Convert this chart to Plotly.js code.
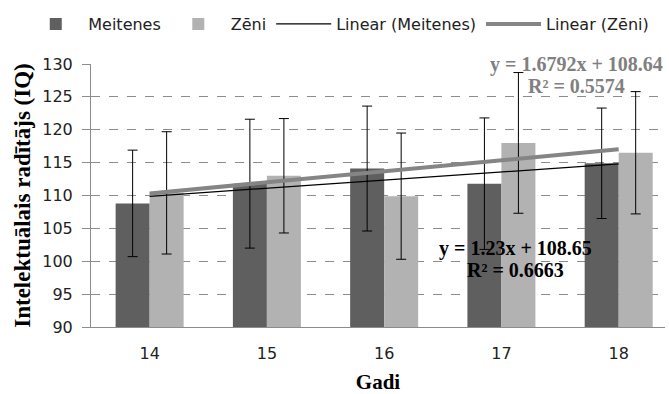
<!DOCTYPE html>
<html>
<head>
<meta charset="utf-8">
<script src="https://cdn.plot.ly/plotly-3.0.1.min.js"></script>
<style>html,body{margin:0;padding:0;background:#fff;}#chart{width:669px;height:394px;}</style>
</head>
<body>
<div id="chart"></div>
<script>
const categories = ['14', '15', '16', '17', '18'];
const meitenes = [108.8, 111.8, 114.1, 111.8, 114.9];
const meitenesErr = [8.1, 9.8, 9.5, 10.0, 8.4];
const zeni = [110.4, 113.0, 109.9, 118.0, 116.5];
const zeniErr = [9.3, 8.7, 9.6, 10.7, 9.3];
const trendX = ['14', '18'];
const trendMeitenes = [109.88, 114.80];
const trendZeni = [110.32, 117.04];
const seriesNames = ['Meitenes', 'Zēni', 'Linear (Meitenes)', 'Linear (Zēni)'];
const eqMeitenes = ['y = 1.23x + 108.65', 'R² = 0.6663'];
const eqZeni = ['y = 1.6792x + 108.64', 'R² = 0.5574'];

const sans = 'DejaVu Sans, sans-serif';
const serif = 'Liberation Serif, Times New Roman, serif';

const traces = [
  {type: 'bar', name: seriesNames[0], x: categories, y: meitenes,
   marker: {color: '#5f5f5f'},
   error_y: {type: 'data', array: meitenesErr, visible: true, color: '#000', thickness: 1, width: 5}},
  {type: 'bar', name: seriesNames[1], x: categories, y: zeni,
   marker: {color: '#b2b2b2'},
   error_y: {type: 'data', array: zeniErr, visible: true, color: '#000', thickness: 1, width: 5}},
  {type: 'scatter', mode: 'lines', name: seriesNames[2], x: trendX, y: trendMeitenes,
   line: {color: '#000', width: 1.2}},
  {type: 'scatter', mode: 'lines', name: seriesNames[3], x: trendX, y: trendZeni,
   line: {color: '#858585', width: 4}}
];

const layout = {
  width: 669, height: 394,
  margin: {l: 91, r: 4, t: 64, b: 67},
  paper_bgcolor: '#fff', plot_bgcolor: '#fff',
  barmode: 'group', bargap: 0.42, bargroupgap: 0,
  showlegend: true,
  legend: {orientation: 'h', x: -0.118, xanchor: 'left', y: 1.152, yanchor: 'middle', itemwidth: 55,
           font: {family: sans, size: 16, color: '#222'}, traceorder: 'normal'},
  xaxis: {type: 'category', range: [-0.5, 4.395], showgrid: false, zeroline: false,
          showline: true, linecolor: '#8c8c8c', linewidth: 1, ticks: '',
          tickfont: {family: sans, size: 16, color: '#222'}, ticklabelstandoff: 12,
          title: {text: 'Gadi', font: {family: serif, size: 21, color: '#000', weight: 'bold'}, standoff: 12}},
  yaxis: {range: [90, 130], dtick: 5, showgrid: true, gridcolor: '#8c8c8c', griddash: 'dash', gridwidth: 1,
          zeroline: false, showline: true, linecolor: '#8c8c8c', linewidth: 1,
          ticks: 'outside', ticklen: 8, tickcolor: '#8c8c8c', ticklabelstandoff: 6,
          tickfont: {family: sans, size: 16, color: '#222'},
          title: {text: 'Intelektuālais radītājs (IQ)', font: {family: serif, size: 23, color: '#000', weight: 'bold'}, standoff: 5}},
  annotations: [
    {x: 3.64, y: 129.9, xref: 'x', yref: 'y', text: eqZeni[0], showarrow: false,
     font: {family: serif, size: 20, color: '#808080', weight: 'bold'}},
    {x: 3.64, y: 126.6, xref: 'x', yref: 'y', text: eqZeni[1], showarrow: false,
     font: {family: serif, size: 20, color: '#808080', weight: 'bold'}},
    {x: 3.12, y: 101.9, xref: 'x', yref: 'y', text: eqMeitenes[0], showarrow: false,
     font: {family: serif, size: 20, color: '#000', weight: 'bold'}},
    {x: 3.12, y: 98.6, xref: 'x', yref: 'y', text: eqMeitenes[1], showarrow: false,
     font: {family: serif, size: 20, color: '#000', weight: 'bold'}}
  ]
};

Plotly.newPlot('chart', traces, layout, {staticPlot: true, displayModeBar: false});
</script>
</body>
</html>
